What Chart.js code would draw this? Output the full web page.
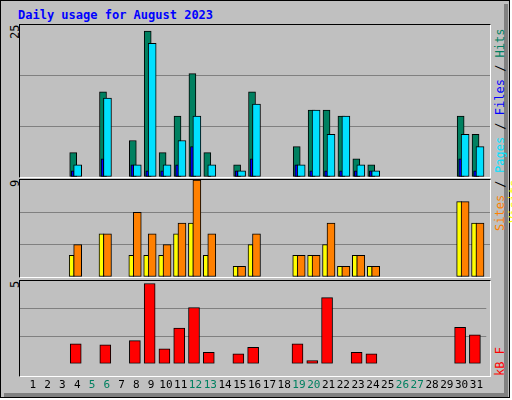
<!DOCTYPE html>
<html><head><meta charset="utf-8">
<script src="https://cdn.jsdelivr.net/npm/chart.js@4"></script>
<style>
body{margin:0;background:#fff;}
#frame{position:absolute;left:0;top:0;width:510px;height:398px;background:#c0c0c0;border:1px solid #000;box-sizing:border-box;}
#shadow{position:absolute;left:4px;top:393px;width:504px;height:4px;background:#808080;}
#shadowr{position:absolute;left:504px;top:4px;width:4px;height:393px;background:#808080;}
.panel{position:absolute;left:19px;width:472px;box-sizing:border-box;border-left:1px solid #000;border-top:1px solid #000;border-right:1px solid #fff;border-bottom:1px solid #fff;}
canvas{position:absolute;}
.t{position:absolute;font-family:"DejaVu Sans Mono",monospace;font-size:11px;}
.v{position:absolute;writing-mode:vertical-rl;transform:rotate(180deg);font-family:"DejaVu Sans Mono",monospace;font-size:12px;}
</style></head>
<body>
<div id="frame"></div><div id="shadow"></div><div id="shadowr"></div>
<div class="t" style="left:18px;top:8px;color:#0000ff;font-weight:bold;font-size:12px;">Daily usage for August 2023</div>
<div class="panel" style="top:24px;height:154px;"></div>
<div class="panel" style="top:179px;height:99px;"></div>
<div class="panel" style="top:280px;height:97px;"></div>
<div class="v" style="left:8px;top:25px;height:20px;text-align:end;">25</div>
<div class="v" style="left:8px;top:180px;height:12px;text-align:end;">9</div>
<div class="v" style="left:8px;top:281px;height:12px;text-align:end;">5</div>
<div class="v" style="left:493px;top:27px;height:146px;text-align:start;"><span style="color:#00e0ff">Pages</span> / <span style="color:#0000ff">Files</span> / <span style="color:#008060">Hits</span></div>
<div class="v" style="left:493px;top:180px;height:78px;text-align:end;"><span style="color:#ff8000">Sites</span> / <span style="color:#ffff00">Visits</span></div>
<div class="v" style="left:493px;top:330px;height:46px;text-align:start;"><span style="color:#ff0000">kB F</span></div>
<canvas id="c1" style="left:20px;top:25px;width:470px;height:152px;"></canvas>
<canvas id="c2" style="left:20px;top:180px;width:470px;height:97px;"></canvas>
<canvas id="c3" style="left:20px;top:281px;width:470px;height:118px;"></canvas>
<script>
const days=[1,2,3,4,5,6,7,8,9,10,11,12,13,14,15,16,17,18,19,20,21,22,23,24,25,26,27,28,29,30,31];
const weekend=[5,6,12,13,19,20,26,27];
const hits=[0,0,0,4,0,14,0,6,24,4,10,17,4,0,2,14,0,0,5,11,11,10,3,2,0,0,0,0,0,10,7];
const files=[0,0,0,2,0,13,0,2,22,2,6,10,2,0,1,12,0,0,2,11,7,10,2,1,0,0,0,0,0,7,5];
const pages=[0,0,0,1,0,3,0,2,1,1,2,5,0,0,1,3,0,0,2,1,1,1,1,1,0,0,0,0,0,3,1];
const visits=[0,0,0,3,0,4,0,6,4,3,5,9,4,0,1,4,0,0,2,2,5,1,2,1,0,0,0,0,0,7,5];
const sites=[0,0,0,2,0,4,0,2,2,2,4,5,2,0,1,3,0,0,2,2,3,1,2,1,0,0,0,0,0,7,5];
const kbytes=[0,0,0,1.2,0,1.15,0,1.4,4.85,0.9,2.15,3.4,0.7,0,0.6,1.0,0,0,1.2,0.2,4.0,0,0.7,0.6,0,0,0,0,0,2.2,1.75];
const pts=(arr,off)=>arr.map((v,i)=>v>0?{x:days[i]+off,y:v}:null).filter(p=>p);
function ds(arr,off,color,w,order){return{data:pts(arr,off),backgroundColor:color,borderColor:'#000',borderWidth:1,barThickness:w,order:order,borderSkipped:false,grouped:false};}
function make(id,sets,max,step,showX){
  new Chart(document.getElementById(id),{type:'bar',data:{datasets:sets},
  options:{responsive:false,animation:false,events:[],layout:{padding:0},
   plugins:{legend:{display:false},tooltip:{enabled:false}},
   scales:{
    x:{type:'linear',min:0.13,max:31.67,offset:false,display:showX,grid:{display:false},border:{display:false},
       afterBuildTicks:s=>{s.ticks=days.map(d=>({value:d}));},
       ticks:{autoSkip:false,maxRotation:0,padding:7,font:{family:'DejaVu Sans Mono',size:11},
         color:c=>weekend.includes(c.tick.value)?'#008060':'#000'}},
    y:{min:0,max:max,afterFit:s=>{s.width=0;},ticks:{display:false,stepSize:step},border:{display:false},
       grid:{color:c=>(c.tick.value>0.01&&c.tick.value<max-0.01)?'#808080':'rgba(0,0,0,0)',lineWidth:1,drawTicks:false}}
   }}});
}
make('c1',[ds(hits,-0.3,'#008060',7,3),ds(pages,-0.33,'#0000ff',3,2),ds(files,0,'#00e0ff',8,1)],25,25/3,false);
make('c2',[ds(sites,-0.4,'#ffff00',5,2),ds(visits,0,'#ff8000',8,1)],9,3,false);
make('c3',[ds(kbytes,-0.1,'#ff0000',11,1)],5,5/3,true);
</script>
</body></html>
